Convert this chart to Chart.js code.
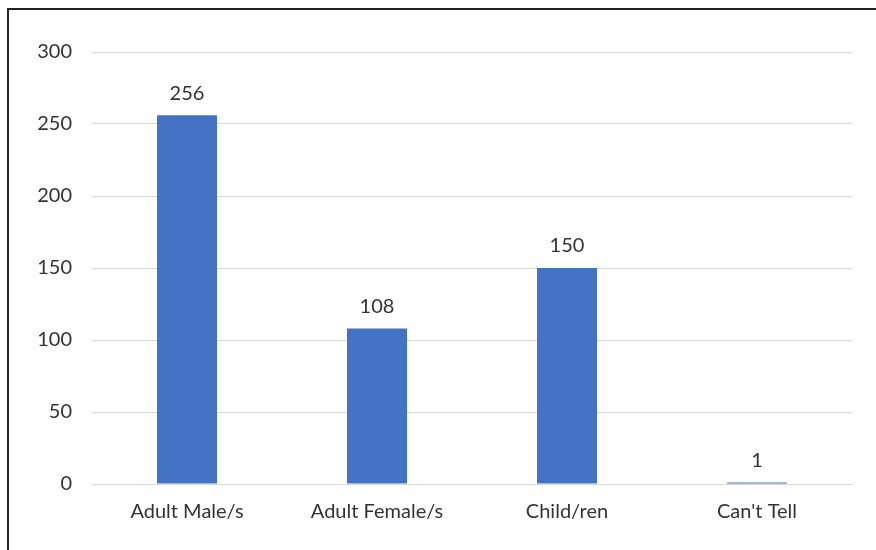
<!DOCTYPE html>
<html>
<head>
<meta charset="utf-8">
<script src="https://cdn.jsdelivr.net/npm/chart.js@4/dist/chart.umd.min.js"></script>
<style>
  html, body { margin: 0; padding: 0; background: #fff; }
  #wrap { position: relative; width: 876px; height: 550px; overflow: hidden; }
  #frame { position: absolute; left: 7px; top: 8px; width: 900px; height: 600px;
           border-left: 2px solid #222; border-top: 2px solid #222; pointer-events: none; }
</style>
</head>
<body>
<div id="wrap">
  <canvas id="barChart" width="876" height="550"></canvas>
  <div id="frame"></div>
</div>
<script>
// data
const categories = ['Adult Male/s', 'Adult Female/s', 'Child/ren', "Can't Tell"];
const counts = [256, 108, 150, 1];
const yTicks = [0, 50, 100, 150, 200, 250, 300];

const textColor = '#333333';
const fontFamily = 'Lato, "Open Sans", sans-serif';
const fontSize = 20;

// draws the value above each bar
const valueLabels = {
  id: 'valueLabels',
  afterDatasetsDraw(chart) {
    const ctx = chart.ctx;
    const meta = chart.getDatasetMeta(0);
    ctx.save();
    ctx.fillStyle = textColor;
    ctx.font = fontSize + 'px ' + fontFamily;
    ctx.textAlign = 'center';
    ctx.textBaseline = 'middle';
    meta.data.forEach((bar, i) => {
      ctx.fillText(String(counts[i]), bar.x, bar.y - 22);
    });
    ctx.restore();
  }
};

const ctx = document.getElementById('barChart').getContext('2d');
const chart = new Chart(ctx, {
  type: 'bar',
  data: {
    labels: categories,
    datasets: [{
      data: counts,
      backgroundColor: '#4472c4',
      borderWidth: 0,
      categoryPercentage: 1,
      barPercentage: 0.316,
    }]
  },
  options: {
    responsive: false,
    animation: false,
    layout: { padding: { left: 0, top: 52, right: 24, bottom: 0 } },
    plugins: {
      legend: { display: false },
      tooltip: { enabled: false }
    },
    scales: {
      x: {
        grid: { display: false, drawTicks: false },
        border: { display: true, color: '#d9d9d9', width: 1 },
        ticks: { color: textColor, font: { family: fontFamily, size: fontSize }, padding: 16 },
        afterFit(scale) { scale.height = 66; }
      },
      y: {
        min: 0,
        max: 300,
        afterBuildTicks(scale) { scale.ticks = yTicks.map(v => ({ value: v })); },
        grid: { color: '#d9d9d9', lineWidth: 1, drawTicks: false },
        border: { display: false },
        ticks: { color: textColor, font: { family: fontFamily, size: fontSize }, padding: 20 },
        afterFit(scale) { scale.width = 92; }
      }
    }
  },
  plugins: [valueLabels]
});
</script>
</body>
</html>
